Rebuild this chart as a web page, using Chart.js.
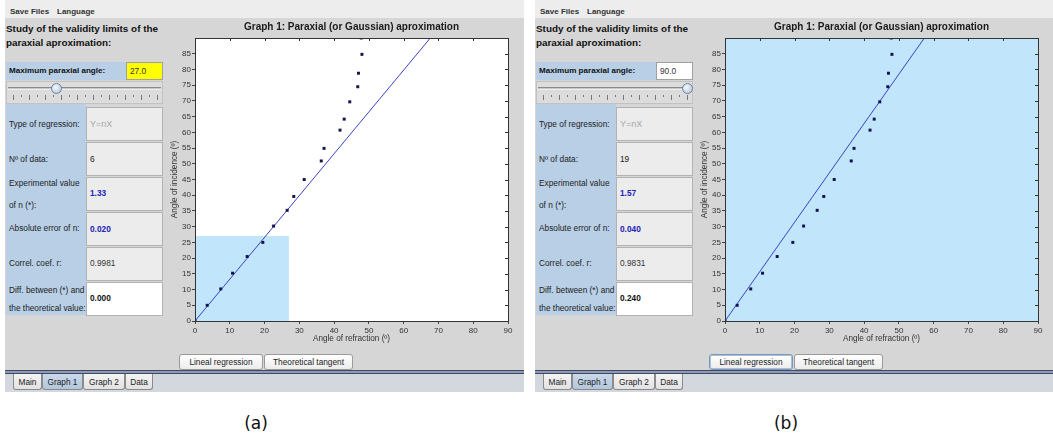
<!DOCTYPE html>
<html>
<head>
<meta charset="utf-8">
<script src="https://cdn.jsdelivr.net/npm/chart.js@4.4.1/dist/chart.umd.min.js"></script>
<style>
  html, body { margin: 0; padding: 0; background: #fff; }
  #page { position: relative; width: 1053px; height: 438px; overflow: hidden; background: #fff;
          font-family: "Liberation Sans", Arial, sans-serif; }
  .caption { position: absolute; top: 413px; width: 60px; text-align: center; font: 17px "DejaVu Sans", sans-serif; color: #111; }
</style>
</head>
<body>
<div id="page"></div>
<script>
// Measured pairs: angle of refraction (x) and angle of incidence (y), degrees
const refractionAngles = [0, 3.5, 7.4, 10.8, 15.0, 19.5, 22.6, 26.5, 28.4, 31.4, 36.3, 37.1, 41.7, 42.9, 44.5, 46.8, 47.0, 48.0, 47.8];
const incidenceAngles  = [0, 5, 10.2, 15.2, 20.5, 25.0, 30.2, 35.2, 39.6, 45.0, 50.9, 54.9, 60.7, 64.2, 69.7, 74.5, 78.8, 84.8, 90];

// One entry per applet state shown side by side
const panelCaptions     = ['(a)', '(b)'];
const maxParaxialAngle  = [27.0, 90.0];
const experimentalN     = [1.33, 1.57];
const absoluteErrorN    = [0.020, 0.040];
const correlationR      = [0.9981, 0.9831];
const theoreticalN      = 1.33;

// Axis ticks
const xTickValues = [0, 10, 20, 30, 40, 50, 60, 70, 80, 90];
const yTickValues = [0, 5, 10, 15, 20, 25, 30, 35, 40, 45, 50, 55, 60, 65, 70, 75, 80, 85];
const axisMin = 0, axisMax = 90;

const chartTitle = 'Graph 1: Paraxial (or Gaussian) aproximation';
const FONT = '"Liberation Sans", Arial, sans-serif';

function box(parent, x, y, w, h, css) {
  const d = document.createElement('div');
  d.style.cssText = 'position:absolute;box-sizing:border-box;left:' + x + 'px;top:' + y + 'px;width:' + w + 'px;height:' + h + 'px;' + (css || '');
  parent.appendChild(d);
  return d;
}
function text(parent, x, cy, str, css) {
  const d = document.createElement('div');
  d.textContent = str;
  d.style.cssText = 'position:absolute;left:' + x + 'px;top:' + (cy - 7) + 'px;height:14px;line-height:14px;white-space:nowrap;font-size:8.3px;color:#222;' + (css || '');
  parent.appendChild(d);
  return d;
}
function centered(parent, x, y, w, h, str, css, textCss) {
  const b = box(parent, x, y, w, h, 'display:flex;align-items:center;justify-content:center;' + (css || ''));
  const s = document.createElement('span');
  s.textContent = str;
  s.style.cssText = 'font-size:8.3px;color:#222;white-space:nowrap;' + (textCss || '');
  b.appendChild(s);
  return b;
}

// White plot background
const plotBackground = {
  id: 'plotBackground',
  beforeDatasetsDraw(chart) {
    const a = chart.chartArea, ctx = chart.ctx;
    ctx.save();
    ctx.fillStyle = '#ffffff';
    ctx.fillRect(a.left, a.top, a.right - a.left, a.bottom - a.top);
    ctx.restore();
  }
};
// Boxed frame with inward tick marks on the top and right edges
const plotFrame = {
  id: 'plotFrame',
  afterDatasetsDraw(chart) {
    const a = chart.chartArea, ctx = chart.ctx;
    const xs = chart.scales.x, ys = chart.scales.y;
    ctx.save();
    ctx.strokeStyle = '#333';
    ctx.lineWidth = 1;
    ctx.strokeRect(Math.round(a.left) + 0.5, Math.round(a.top) + 0.5, Math.round(a.right - a.left), Math.round(a.bottom - a.top));
    ctx.beginPath();
    xTickValues.forEach(v => {
      const px = Math.round(xs.getPixelForValue(v)) + 0.5;
      ctx.moveTo(px, a.top); ctx.lineTo(px, a.top + 3);
    });
    yTickValues.forEach(v => {
      const py = Math.round(ys.getPixelForValue(v)) + 0.5;
      ctx.moveTo(a.right, py); ctx.lineTo(a.right - 3, py);
    });
    ctx.stroke();
    ctx.restore();
  }
};
// Heading centred over the plot area
const plotTitle = {
  id: 'plotTitle',
  afterDraw(chart, args, opts) {
    const a = chart.chartArea, ctx = chart.ctx;
    ctx.save();
    ctx.font = 'bold ' + opts.size + 'px ' + FONT;
    ctx.fillStyle = opts.color;
    ctx.textAlign = 'center';
    ctx.textBaseline = 'middle';
    ctx.fillText(opts.text, (a.left + a.right) / 2, opts.y);
    ctx.restore();
  }
};

function buildChart(canvas, idx) {
  const n = experimentalN[idx];
  const maxA = maxParaxialAngle[idx];
  const points = refractionAngles.map((x, i) => ({ x: x, y: incidenceAngles[i] }));
  const fitLine = [axisMin, axisMax].map(x => ({ x: x, y: n * x }));
  const paraxialZone = [{ x: 0, y: maxA }, { x: maxA, y: maxA }];
  return new Chart(canvas, {
    type: 'scatter',
    data: {
      datasets: [
        { data: points, pointStyle: 'rect', pointRadius: 2.1, backgroundColor: '#13134d', borderWidth: 0, order: 0 },
        { type: 'line', data: fitLine, borderColor: '#3d42c4', borderWidth: 1, pointRadius: 0, fill: false, order: 1 },
        { type: 'line', data: paraxialZone, borderWidth: 0, borderColor: 'rgba(0,0,0,0)', pointRadius: 0,
          fill: 'origin', backgroundColor: '#c1e5fa', order: 2 }
      ]
    },
    plugins: [plotBackground, plotFrame, plotTitle],
    options: {
      responsive: false, animation: false, devicePixelRatio: 1,
      layout: { padding: { left: 2, top: 20, right: 16, bottom: 0 } },
      plugins: {
        legend: { display: false },
        tooltip: { enabled: false },
        title: { display: false },
        plotTitle: { text: chartTitle, size: 10, color: '#1a1a1a', y: 9.7 }
      },
      scales: {
        x: {
          type: 'linear', min: axisMin, max: axisMax,
          afterBuildTicks: s => { s.ticks = xTickValues.map(v => ({ value: v })); },
          afterFit: s => { s.height = 30; },
          ticks: { color: '#333', font: { family: FONT, size: 8 }, padding: 2, maxRotation: 0, autoSkip: false },
          grid: { drawOnChartArea: false, drawTicks: true, tickLength: 3, color: '#444' },
          border: { display: true, color: '#333' },
          title: { display: true, text: 'Angle of refraction (º)', color: '#333',
                   font: { family: FONT, size: 8.2, lineHeight: 1.2 }, padding: { top: 0, bottom: 7.1 } }
        },
        y: {
          type: 'linear', min: axisMin, max: axisMax,
          afterBuildTicks: s => { s.ticks = yTickValues.map(v => ({ value: v })); },
          afterFit: s => { s.width = 30; },
          ticks: { color: '#333', font: { family: FONT, size: 8 }, padding: 1, autoSkip: false },
          grid: { drawOnChartArea: false, drawTicks: true, tickLength: 3, color: '#444' },
          border: { display: true, color: '#333' },
          title: { display: true, text: 'Angle of incidence (º)', color: '#333',
                   font: { family: FONT, size: 8.2, lineHeight: 1.2 }, padding: { top: 5.1, bottom: 0 } }
        }
      }
    }
  });
}

function buildPanel(page, idx, left) {
  const app = box(page, left, 0, 519, 392, 'background:#d6d6d6;overflow:hidden;');
  const maxA = maxParaxialAngle[idx];
  const nExp = experimentalN[idx];
  const count = incidenceAngles.filter(v => v <= maxA).length;

  // menu bar
  box(app, 0, 0, 519, 18, 'background:#ededed;');
  text(app, 5, 11.5, 'Save Files', 'font-weight:bold;font-size:8px;color:#333;');
  text(app, 52, 11.5, 'Language', 'font-weight:bold;font-size:8px;color:#333;');

  // heading
  text(app, 1, 29, 'Study of the validity limits of the', 'font-weight:bold;font-size:9.9px;color:#111;');
  text(app, 1, 43, 'paraxial aproximation:', 'font-weight:bold;font-size:9.9px;color:#111;');

  // maximum paraxial angle field
  box(app, 1, 62, 120, 18, 'background:#b8cfe6;');
  text(app, 4, 71, 'Maximum paraxial angle:', 'font-weight:bold;font-size:8.1px;color:#111;');
  const fieldBg = idx === 0 ? '#ffff00' : '#ffffff';
  box(app, 121, 62, 37, 18, 'background:' + fieldBg + ';border:1px solid #a0a0a0;');
  text(app, 125, 71, maxA.toFixed(1), 'color:#333;font-size:8.3px;');

  // slider
  box(app, 1, 81, 157, 23, 'background:#dcdcdc;border:1px solid #c2c2c2;');
  box(app, 3, 87, 153, 3, 'background:#c8c8c8;border-top:1px solid #8a8a8a;border-bottom:1px solid #eee;');
  const t0 = 8.3, t1 = 151.7;
  for (let i = 0; i <= 18; i++) {
    const x = Math.round(t0 + i * (t1 - t0) / 18);
    if (i % 2 === 0) box(app, x, 95, 1, 5, 'background:#777;');
    else box(app, x, 95, 1, 2, 'background:#777;');
  }
  const thumbX = t0 + (maxA / 90) * (t1 - t0);
  box(app, thumbX - 5, 83, 11, 11, 'border-radius:50%;border:1px solid #6c84a3;background:radial-gradient(circle at 40% 35%, #f4f8fc, #aebfd5);');

  // labels column and value fields
  box(app, 1, 104, 80, 211, 'background:#b8cfe6;');
  const rowTops = [107, 142, 177, 212, 247, 282];
  rowTops.forEach((t, i) => {
    const bg = i === 5 ? '#ffffff' : '#ececec';
    box(app, 81, t, 77, 34, 'background:' + bg + ';border:1px solid #b2b2b2;');
  });
  text(app, 4, 124.3, 'Type of regression:');
  text(app, 4, 159.3, 'Nº of data:');
  text(app, 4, 183, 'Experimental value');
  text(app, 4, 205, 'of n (*):');
  text(app, 4, 228, 'Absolute error of n:');
  text(app, 4, 263, 'Correl. coef. r:');
  text(app, 4, 290, 'Diff. between (*) and');
  text(app, 4, 308, 'the theoretical value:');

  text(app, 85, 124.3, 'Y=nX', 'color:#a8a8a8;font-size:9px;');
  text(app, 85, 159.3, String(count), 'color:#222;');
  text(app, 85, 192.5, nExp.toFixed(2), 'color:#2323b8;font-weight:bold;');
  text(app, 85, 229, absoluteErrorN[idx].toFixed(3), 'color:#2323b8;font-weight:bold;');
  text(app, 85, 263, correlationR[idx].toFixed(4), 'color:#333;');
  text(app, 85, 298.3, (nExp - theoreticalN).toFixed(3), 'color:#111;font-weight:bold;');

  // chart
  const cv = document.createElement('canvas');
  cv.width = 361; cv.height = 333;
  cv.style.cssText = 'position:absolute;left:158px;top:18px;width:361px;height:333px;';
  app.appendChild(cv);
  buildChart(cv, idx);

  // buttons
  const focus = idx === 1 ? 'border:1px solid #7a98b8;box-shadow:inset 0 0 0 1px #a9c0d8;' : 'border:1px solid #9a9a9a;';
  centered(app, 174, 354, 84, 16, 'Lineal regression', 'background:linear-gradient(#ffffff,#ececec);border-radius:3px;' + focus);
  centered(app, 259, 354, 89, 16, 'Theoretical tangent', 'background:linear-gradient(#ffffff,#ececec);border-radius:3px;border:1px solid #9a9a9a;');

  // tab strip
  box(app, 0, 370, 519, 4, 'border-top:1px solid #3e4a66;border-bottom:1px solid #3e4a66;background:#8f9ab0;');
  box(app, 0, 374, 519, 18, 'background:#d3d8df;');
  const tabs = [['Main', 8, 29], ['Graph 1', 37, 41], ['Graph 2', 78, 42], ['Data', 120, 28]];
  tabs.forEach((t, i) => {
    const bg = i === 1 ? 'linear-gradient(#c9d9ea,#b3c7dc)' : 'linear-gradient(#f4f4f4,#e2e2e2)';
    centered(app, t[1], 374, t[2], 16, t[0], 'background:' + bg + ';border:1px solid #8a8a8a;border-top:none;border-radius:0 0 3px 3px;');
  });
}

const page = document.getElementById('page');
const panelLefts = [5, 535];
panelLefts.forEach((l, i) => buildPanel(page, i, l));
panelCaptions.forEach((c, i) => {
  const d = document.createElement('div');
  d.className = 'caption';
  d.textContent = c;
  d.style.left = (i === 0 ? 226 : 756) + 'px';
  page.appendChild(d);
});
</script>
</body>
</html>
